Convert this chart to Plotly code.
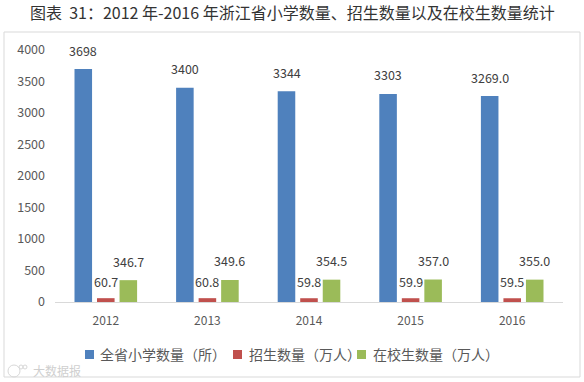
import plotly.graph_objects as go

years = ["2012", "2013", "2014", "2015", "2016"]
schools = [3698, 3400, 3344, 3303, 3269.0]
enrol = [60.7, 60.8, 59.8, 59.9, 59.5]
students = [346.7, 349.6, 354.5, 357.0, 355.0]
school_labels = ["3698", "3400", "3344", "3303", "3269.0"]
enrol_labels = ["60.7", "60.8", "59.8", "59.9", "59.5"]
student_labels = ["346.7", "349.6", "354.5", "357.0", "355.0"]
title = "图表  31：2012 年-2016 年浙江省小学数量、招生数量以及在校生数量统计"
names = ["全省小学数量（所）", "招生数量（万人）", "在校生数量（万人）"]
colors = ["#4F81BD", "#C0504D", "#9BBB59"]

W, H = 584, 382
L, R, T, B = 55, 563, 50, 302
FONT = "Noto Sans CJK SC, Noto Sans, sans-serif"
GREY = "#595959"


def px(v):
    return (v - L) / (R - L)


def py(v):
    return (B - v) / (B - T)


fig = go.Figure()
for n, v, c in zip(names, [schools, enrol, students], colors):
    fig.add_bar(x=years, y=v, name=n, showlegend=False, marker=dict(color=c, line_width=0))

annos = []
for i in range(len(years)):
    annos.append(dict(x=i, y=schools[i], text=school_labels[i], xshift=-22.5, yshift=19))
    annos.append(dict(x=i, y=enrol[i], text=enrol_labels[i], xshift=0, yshift=17))
    annos.append(dict(x=i, y=students[i], text=student_labels[i], xshift=22.5, yshift=19))
for a in annos:
    a.update(xref="x", yref="y", showarrow=False, font=dict(size=12.5, color="#404040", family=FONT))

annos.append(dict(xref="paper", yref="paper", x=px(31), y=py(370), xanchor="left", yanchor="middle",
                  showarrow=False, text="大数据报", font=dict(size=12, color="#cfcfcf", family=FONT)))
annos.append(dict(xref="paper", yref="paper", x=px(292), y=py(12), xanchor="center", yanchor="middle",
                  showarrow=False, text=title, font=dict(size=16, color="#333333", family=FONT)))

shapes = [dict(type="rect", xref="paper", yref="paper", x0=px(4), x1=px(580), y0=py(377), y1=py(32),
               line=dict(color="#D9D9D9", width=1), fillcolor="rgba(0,0,0,0)", layer="below")]
for n, c, mx, tx in zip(names, colors, [85, 233, 357], [98, 247, 371]):
    shapes.append(dict(type="rect", xref="paper", yref="paper", x0=px(mx), x1=px(mx + 9),
                       y0=py(359), y1=py(350), line_width=0, fillcolor=c))
    annos.append(dict(xref="paper", yref="paper", x=px(tx), y=py(354), xanchor="left", yanchor="middle",
                      showarrow=False, text=n, font=dict(size=14, color=GREY, family=FONT)))

# faint watermark logo
for x0, x1, y0, y1 in [(8, 20, 377, 365), (19, 23, 369, 365), (23, 27, 369, 365)]:
    shapes.append(dict(type="circle", xref="paper", yref="paper", x0=px(x0), x1=px(x1),
                       y0=py(y0), y1=py(y1), line=dict(color="#d8d8d8", width=1),
                       fillcolor="rgba(0,0,0,0)"))

fig.update_layout(
    width=W, height=H, autosize=False,
    margin=dict(l=L, r=W - R, t=T, b=H - B),
    paper_bgcolor="white", plot_bgcolor="white",
    barmode="group", bargap=0.335, bargroupgap=0.22,
    annotations=annos, shapes=shapes, showlegend=False,
    xaxis=dict(type="category", range=[-0.5, 4.5], tickfont=dict(size=12, color=GREY, family=FONT),
               showline=True, linecolor="#D9D9D9", linewidth=1, ticks="", showgrid=False,
               ticklabelstandoff=8, automargin=False),
    yaxis=dict(range=[0, 4000], dtick=500, tickfont=dict(size=12.5, color=GREY, family=FONT),
               showline=False, ticks="", showgrid=False, zeroline=False,
               ticklabelstandoff=9, automargin=False),
)
fig.write_html("out.html", config={"displayModeBar": False},
               post_script="document.body.style.margin='0';")
